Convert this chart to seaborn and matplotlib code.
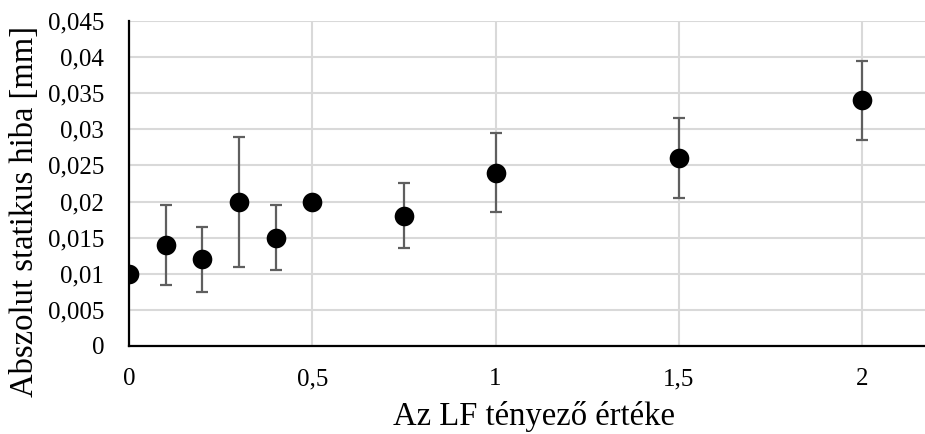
import matplotlib
matplotlib.use("Agg")
import matplotlib.pyplot as plt
import seaborn as sns
import pandas as pd

# Data
lf_values = [0, 0.1, 0.2, 0.3, 0.4, 0.5, 0.75, 1, 1.5, 2]
abs_error = [0.010, 0.014, 0.012, 0.020, 0.015, 0.020, 0.018, 0.024, 0.026, 0.034]
error_bar = [0.0, 0.0055, 0.0045, 0.009, 0.0045, 0.0, 0.0045, 0.0055, 0.0055, 0.0055]

x_ticks = [0, 0.5, 1, 1.5, 2]
x_tick_labels = ["0", "0,5", "1", "1,5", "2"]
y_ticks = [0, 0.005, 0.01, 0.015, 0.02, 0.025, 0.03, 0.035, 0.04, 0.045]
y_tick_labels = ["0", "0,005", "0,01", "0,015", "0,02", "0,025", "0,03", "0,035", "0,04", "0,045"]

x_label = "Az LF tényező értéke"
y_label = "Abszolut statikus hiba [mm]"

df = pd.DataFrame({"lf": lf_values, "err": abs_error, "sd": error_bar})

sns.set_theme(style="white")
plt.rcParams["font.family"] = ["Liberation Serif", "DejaVu Serif"]

fig = plt.figure(figsize=(9.25, 4.34), dpi=100)
ax = fig.add_axes([0.1395, 0.2028, 0.8605, 0.7488])

ax.set_axisbelow(True)
ax.grid(True, color="#d9d9d9", linewidth=1.5)

mask = df["sd"] > 0
ax.errorbar(df.loc[mask, "lf"], df.loc[mask, "err"], yerr=df.loc[mask, "sd"],
            fmt="none", ecolor="#5f5f5f", elinewidth=1.6, capsize=4.5, capthick=1.6, zorder=2)

sns.scatterplot(data=df, x="lf", y="err", ax=ax, color="black", s=200,
                edgecolor="black", linewidth=0, zorder=3, legend=False)

ax.set_xlim(0, 2.172)
ax.set_ylim(0, 0.045)
ax.set_xticks(x_ticks)
ax.set_xticklabels(x_tick_labels)
ax.set_yticks(y_ticks)
ax.set_yticklabels(y_tick_labels)
ax.tick_params(axis="both", length=0, labelsize=18, colors="black")
ax.tick_params(axis="y", pad=18)
ax.tick_params(axis="x", pad=16)

for side in ["top", "right"]:
    ax.spines[side].set_visible(False)
for side in ["left", "bottom"]:
    ax.spines[side].set_color("black")
    ax.spines[side].set_linewidth(1.6)

ax.set_xlabel(x_label, fontsize=23.5, color="black")
ax.set_ylabel(y_label, fontsize=23.5, color="black")
ax.xaxis.set_label_coords(0.509, -0.168)
ax.yaxis.set_label_coords(-0.112, 0.415)

fig.savefig("out.png", dpi=100)
